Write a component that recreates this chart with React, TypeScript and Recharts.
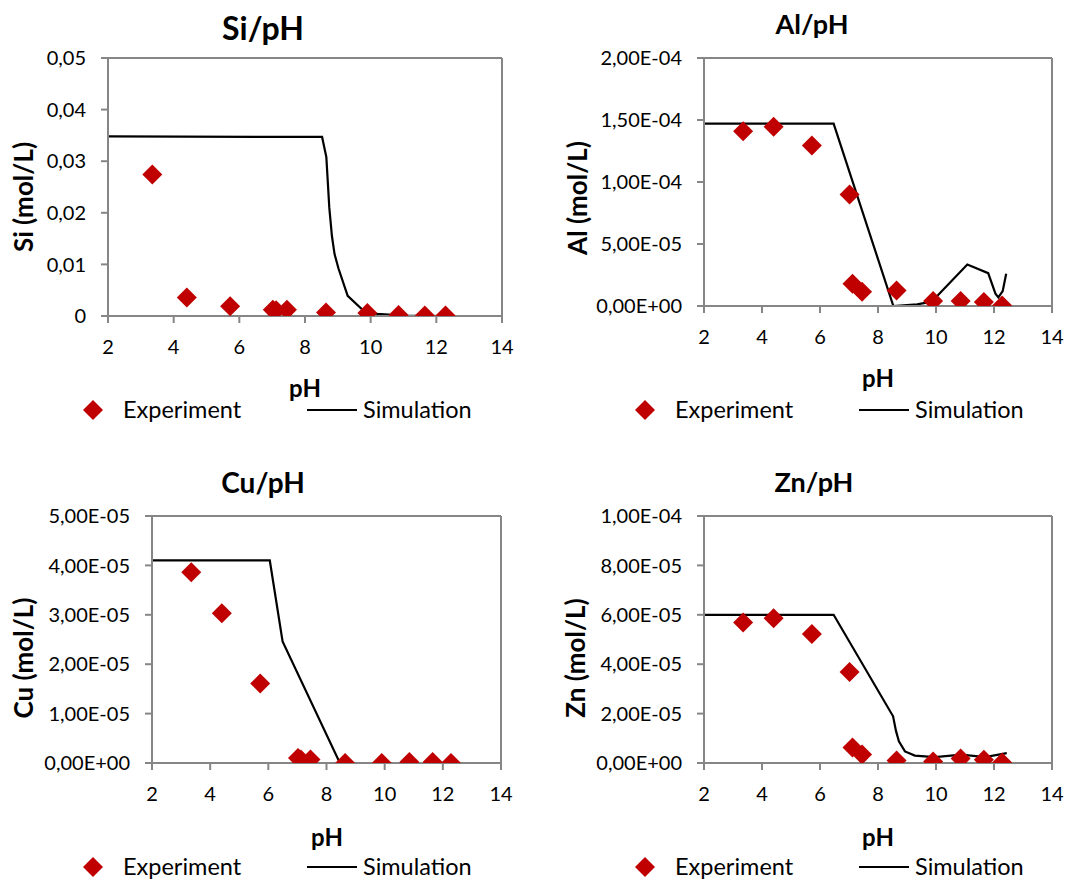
import React from "react";
import { ComposedChart, Scatter, Line, XAxis, YAxis, ReferenceLine } from "recharts";

const FONT = "Lato, 'Open Sans', sans-serif";
const RED = "#C00000";
const FRAME = "#868686";

// x axis (pH) for every panel
const PH_TICKS = [2, 4, 6, 8, 10, 12, 14];

// measured pH of the samples (same for every element)
const PH_EXP = [3.35, 4.4, 5.72, 7.02, 7.12, 7.45, 8.64, 9.9, 10.85, 11.65, 12.28];

// experiment values (mol/L)
const SI_EXP = [0.0274, 0.0036, 0.0019, 0.0012, 0.0011, 0.0012, 0.0007, 0.0006, 0.0002, 0.0001, 0.0001];
const AL_EXP = [1.41e-4, 1.445e-4, 1.295e-4, 9.0e-5, 1.8e-5, 1.15e-5, 1.25e-5, 4e-6, 4e-6, 3.2e-6, 5e-7];
const CU_EXP = [3.86e-5, 3.03e-5, 1.61e-5, 1.0e-6, 7e-7, 7e-7, 0, 0, 2e-7, 2e-7, 0];
const ZN_EXP = [5.69e-5, 5.86e-5, 5.22e-5, 3.68e-5, 6.3e-6, 3.4e-6, 1.0e-6, 6e-7, 1.8e-6, 1.3e-6, 2e-7];

// simulation curves
const SI_SIM_PH = [2, 8.52, 8.65, 8.74, 8.82, 8.9, 9.02, 9.3, 9.8, 10.2, 11, 12.3];
const SI_SIM = [0.0348, 0.0347, 0.0308, 0.021, 0.0155, 0.012, 0.0092, 0.0039, 0.0009, 0.0004, 0.0001, 0];
const AL_SIM_PH = [2, 6.47, 8.53, 9.35, 9.85, 11.08, 11.8, 12.05, 12.15, 12.3, 12.42];
const AL_SIM = [1.47e-4, 1.47e-4, 0, 1.3e-6, 3.5e-6, 3.35e-5, 2.65e-5, 1e-5, 7e-6, 1.2e-5, 2.6e-5];
const CU_SIM_PH = [2, 6.05, 6.49, 8.46, 12.25];
const CU_SIM = [4.1e-5, 4.1e-5, 2.46e-5, 0, 0];
const ZN_SIM_PH = [2, 6.47, 8.52, 8.62, 8.72, 8.93, 9.27, 9.96, 10.88, 11.69, 12.44];
const ZN_SIM = [6e-5, 6e-5, 1.89e-5, 1.3e-5, 8.8e-6, 4.7e-6, 3.0e-6, 2.4e-6, 3.4e-6, 2.4e-6, 4e-6];

// y ticks
const SI_TICKS = [0, 0.01, 0.02, 0.03, 0.04, 0.05];
const AL_TICKS = [0, 5e-5, 1e-4, 1.5e-4, 2e-4];
const CU_TICKS = [0, 1e-5, 2e-5, 3e-5, 4e-5, 5e-5];
const ZN_TICKS = [0, 2e-5, 4e-5, 6e-5, 8e-5, 1e-4];

const zip = (xs: number[], ys: number[]) => xs.map((x, i) => ({ x, y: ys[i] }));

const fmtDec = (v: number) => (v === 0 ? "0" : v.toFixed(2).replace(".", ","));
const fmtSci = (v: number) => {
  if (v === 0) return "0,00E+00";
  const e = Math.floor(Math.log10(v) + 1e-9);
  const m = v / Math.pow(10, e);
  const sign = e < 0 ? "-" : "+";
  return m.toFixed(2).replace(".", ",") + "E" + sign + String(Math.abs(e)).padStart(2, "0");
};

const Diamond = (props: any) => {
  const { cx, cy } = props;
  if (cx == null || cy == null) return null;
  const r = 10;
  return <path d={`M${cx},${cy - r}L${cx + r},${cy}L${cx},${cy + r}L${cx - r},${cy}Z`} fill={RED} />;
};

const abs = (x: number, y: number, extra: React.CSSProperties = {}): React.CSSProperties => ({
  position: "absolute",
  left: x,
  top: y,
  whiteSpace: "nowrap",
  fontFamily: FONT,
  color: "#000",
  lineHeight: 1,
  ...extra,
});

interface PanelProps {
  box: { left: number; top: number; width: number; height: number };
  margin: { top: number; right: number; bottom: number; left: number };
  yWidth: number;
  exp: { x: number; y: number }[];
  sim: { x: number; y: number }[];
  yTicks: number[];
  fmt: (v: number) => string;
  title: string;
  titleAt: [number, number];
  titleSize: number;
  yLabel: string;
  yLabelAt: [number, number];
  xLabelAt: [number, number];
  legendY: number;
  legendX: number;
}

const Panel = (p: PanelProps) => {
  const yMax = p.yTicks[p.yTicks.length - 1];
  const tick = { fill: "#000", fontSize: 20, fontFamily: FONT };
  return (
    <>
      <div style={abs(p.box.left, p.box.top)}>
        <ComposedChart width={p.box.width} height={p.box.height} margin={p.margin}>
          <XAxis
            type="number"
            dataKey="x"
            domain={[2, 14]}
            ticks={PH_TICKS}
            interval={0}
            height={40}
            tick={tick}
            tickSize={7}
            tickMargin={17}
            axisLine={{ stroke: FRAME, strokeWidth: 2 }}
            tickLine={{ stroke: FRAME, strokeWidth: 2 }}
          />
          <YAxis
            type="number"
            dataKey="y"
            domain={[0, yMax]}
            ticks={p.yTicks}
            interval={0}
            width={p.yWidth}
            tick={tick}
            tickSize={7}
            tickMargin={15}
            tickFormatter={p.fmt}
            axisLine={{ stroke: FRAME, strokeWidth: 2 }}
            tickLine={{ stroke: FRAME, strokeWidth: 2 }}
            allowDataOverflow
          />
          <ReferenceLine y={yMax} stroke={FRAME} strokeWidth={2} />
          <ReferenceLine x={14} stroke={FRAME} strokeWidth={2} />
          <Line
            data={p.sim}
            dataKey="y"
            type="linear"
            stroke="#000"
            strokeWidth={2.2}
            dot={false}
            isAnimationActive={false}
          />
          <Scatter data={p.exp} dataKey="y" shape={<Diamond />} isAnimationActive={false} />
        </ComposedChart>
      </div>
      <div style={abs(p.titleAt[0], p.titleAt[1], { transform: "translate(-50%,-50%)", fontWeight: 700, fontSize: p.titleSize })}>
        {p.title}
      </div>
      <div style={abs(p.xLabelAt[0], p.xLabelAt[1], { transform: "translate(-50%,-50%)", fontWeight: 700, fontSize: 24 })}>
        pH
      </div>
      <div
        style={abs(p.yLabelAt[0], p.yLabelAt[1], {
          transform: "translate(-50%,-50%) rotate(-90deg)",
          fontWeight: 700,
          fontSize: 26,
        })}
      >
        {p.yLabel}
      </div>
      <svg style={abs(p.legendX - 11, p.legendY - 11)} width={22} height={22}>
        <Diamond cx={11} cy={11} />
      </svg>
      <div style={abs(p.legendX + 30, p.legendY, { transform: "translateY(-50%)", fontSize: 23.5 })}>Experiment</div>
      <div style={abs(p.legendX + 214, p.legendY - 1, { width: 50, height: 2, background: "#000" })} />
      <div style={abs(p.legendX + 270, p.legendY, { transform: "translateY(-50%)", fontSize: 23.5 })}>Simulation</div>
    </>
  );
};

export default function App() {
  return (
    <div style={{ position: "absolute", left: 0, top: 0, width: 1091, height: 881, background: "#fff" }}>
      <Panel
        box={{ left: 0, top: 0, width: 545, height: 440 }}
        margin={{ top: 58, right: 43, bottom: 84, left: 8 }}
        yWidth={100}
        exp={zip(PH_EXP, SI_EXP)}
        sim={zip(SI_SIM_PH, SI_SIM)}
        yTicks={SI_TICKS}
        fmt={fmtDec}
        title="Si/pH"
        titleAt={[263, 28]}
        titleSize={32}
        yLabel="Si (mol/L)"
        yLabelAt={[23, 197]}
        xLabelAt={[305, 388]}
        legendX={93}
        legendY={410}
      />
      <Panel
        box={{ left: 545, top: 0, width: 546, height: 440 }}
        margin={{ top: 58, right: 39, bottom: 94, left: 9 }}
        yWidth={150}
        exp={zip(PH_EXP, AL_EXP)}
        sim={zip(AL_SIM_PH, AL_SIM)}
        yTicks={AL_TICKS}
        fmt={fmtSci}
        title="Al/pH"
        titleAt={[812, 23]}
        titleSize={27}
        yLabel="Al (mol/L)"
        yLabelAt={[577, 198]}
        xLabelAt={[878, 378]}
        legendX={645}
        legendY={410}
      />
      <Panel
        box={{ left: 0, top: 440, width: 545, height: 441 }}
        margin={{ top: 76, right: 44, bottom: 78, left: 12 }}
        yWidth={140}
        exp={zip(PH_EXP, CU_EXP)}
        sim={zip(CU_SIM_PH, CU_SIM)}
        yTicks={CU_TICKS}
        fmt={fmtSci}
        title="Cu/pH"
        titleAt={[263, 482]}
        titleSize={28}
        yLabel="Cu (mol/L)"
        yLabelAt={[23, 658]}
        xLabelAt={[327, 837]}
        legendX={93}
        legendY={867}
      />
      <Panel
        box={{ left: 545, top: 440, width: 546, height: 441 }}
        margin={{ top: 76, right: 39, bottom: 78, left: 9 }}
        yWidth={150}
        exp={zip(PH_EXP, ZN_EXP)}
        sim={zip(ZN_SIM_PH, ZN_SIM)}
        yTicks={ZN_TICKS}
        fmt={fmtSci}
        title="Zn/pH"
        titleAt={[814, 481]}
        titleSize={27}
        yLabel="Zn (mol/L)"
        yLabelAt={[575, 658]}
        xLabelAt={[878, 837]}
        legendX={645}
        legendY={867}
      />
    </div>
  );
}
